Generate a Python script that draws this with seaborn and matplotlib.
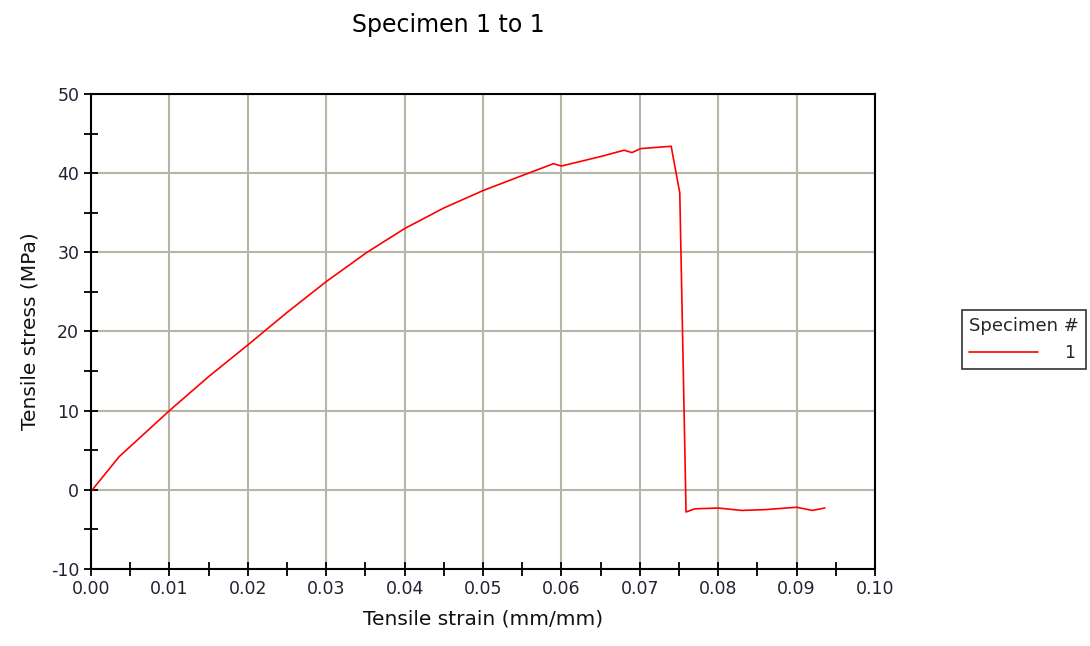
import numpy as np
import pandas as pd
import matplotlib
matplotlib.use("Agg")
import matplotlib.pyplot as plt
from matplotlib.ticker import MultipleLocator, FormatStrFormatter
import seaborn as sns

sns.set_style("ticks")
plt.rcParams['font.family'] = ['DejaVu Sans']
plt.rcParams['axes.unicode_minus'] = False

# strain / stress readings for specimen 1
strain = [0.0000, 0.0036, 0.0100, 0.0150, 0.0200, 0.0250, 0.0300, 0.0352,
          0.0400, 0.0450, 0.0500, 0.0550, 0.0590, 0.0600, 0.0650, 0.0680,
          0.0690, 0.0701, 0.0740, 0.0751, 0.0759, 0.0770, 0.0800, 0.0830,
          0.0860, 0.0900, 0.0920, 0.0936]
stress = [-0.2, 4.2, 10.0, 14.3, 18.3, 22.4, 26.3, 30.0,
          33.0, 35.6, 37.8, 39.7, 41.2, 40.9, 42.1, 42.9,
          42.6, 43.1, 43.4, 37.5, -2.8, -2.4, -2.3, -2.6,
          -2.5, -2.2, -2.6, -2.3]
specimen = ['1'] * len(strain)

df = pd.DataFrame({'strain': strain, 'stress': stress, 'Specimen #': specimen})

fig = plt.figure(figsize=(10.9, 6.46), dpi=100)
ax = fig.add_axes([91/1090, 77/646, 784/1090, 475/646])

sns.lineplot(data=df, x='strain', y='stress', hue='Specimen #',
             palette={'1': '#ff0000'}, sort=False, linewidth=1.2, ax=ax, legend=False)

ax.set_xlim(0, 0.10)
ax.set_ylim(-10, 50)
ax.xaxis.set_major_locator(MultipleLocator(0.01))
ax.xaxis.set_minor_locator(MultipleLocator(0.005))
ax.yaxis.set_major_locator(MultipleLocator(10))
ax.yaxis.set_minor_locator(MultipleLocator(5))
ax.xaxis.set_major_formatter(FormatStrFormatter('%.2f'))

ax.grid(True, which='major', color='#b8b4a6', linewidth=1.5)
ax.set_axisbelow(True)
for s in ax.spines.values():
    s.set_visible(True)
    s.set_color('black')
    s.set_linewidth(1.5)
for which in ('major', 'minor'):
    ax.tick_params(axis='both', which=which, bottom=True, left=True, top=False, right=False,
                   direction='inout', length=10, width=1.3, color='black')
ax.tick_params(which='major', labelsize=12.5, labelcolor='#222233')
ax.tick_params(axis='x', which='major', pad=3)

ax.set_xlabel('Tensile strain (mm/mm)', fontsize=14.5, color='#111111', labelpad=8)
ax.set_ylabel('Tensile stress (MPa)', fontsize=14.5, color='#111111', labelpad=8)
fig.suptitle('Specimen 1 to 1', x=448/1090, y=0.98, fontsize=17, color='black')

handle = plt.Line2D([], [], color='#ff0000', linewidth=1.2)
leg = fig.legend([handle], ['1'], title='Specimen #', loc='upper left',
                 bbox_to_anchor=(962/1090, 1 - 310/646), fontsize=12.5,
                 title_fontsize=13, frameon=True, fancybox=False, shadow=False,
                 handlelength=4.0, handletextpad=1.5, borderpad=0.4,
                 borderaxespad=0)
leg.get_frame().set_edgecolor('black')
leg.get_frame().set_linewidth(1.2)
leg._legend_box.align = 'left'

fig.savefig('out.png', dpi=100)
